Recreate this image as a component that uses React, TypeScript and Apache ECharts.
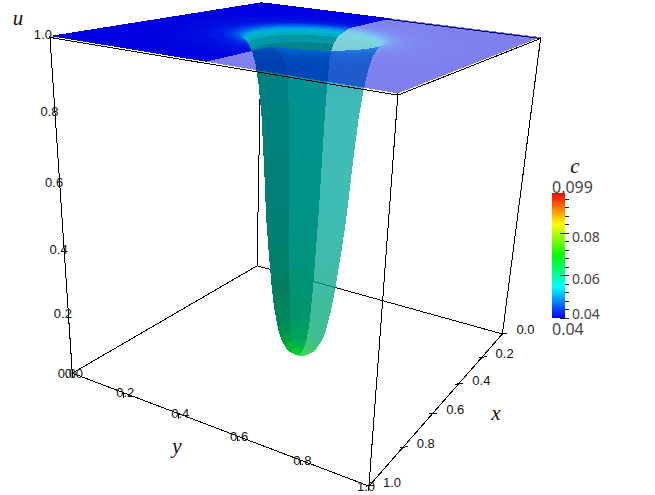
import React, { useEffect, useRef } from "react";
import * as echarts from "echarts";

// ---- radial profile of the well ----
const profileR = [0, 0.03, 0.05, 0.065, 0.075, 0.09, 0.1, 0.11, 0.12, 0.13, 0.14, 0.15, 0.16, 0.17, 0.18, 0.185, 0.19, 0.195, 0.2, 0.205, 0.21, 0.22, 0.23, 0.24, 0.27, 0.3, 0.4, 0.5, 0.75];
const profileU = [-0.004, 0.004, 0.02, 0.05, 0.08, 0.16, 0.24, 0.34, 0.45, 0.62, 0.77, 0.86, 0.92, 0.955, 0.975, 0.983, 0.989, 0.993, 0.996, 0.998, 0.999, 1, 1, 1, 1, 1, 1, 1, 1];
const profileC = [0.0695, 0.067, 0.064, 0.0615, 0.06, 0.0585, 0.058, 0.057, 0.056, 0.0555, 0.055, 0.0545, 0.054, 0.0535, 0.0535, 0.053, 0.052, 0.05, 0.048, 0.0465, 0.0455, 0.0445, 0.0435, 0.043, 0.0415, 0.041, 0.0403, 0.04, 0.04];
const shadeBack = [0.9, 0.8, 0.65, 0.58, 0.55, 0.5, 0.5, 0.5, 0.5, 0.5, 0.5, 0.5, 0.52, 0.58, 0.72, 0.8, 0.86, 0.9, 0.92, 0.92, 0.92, 0.91, 0.9, 0.9, 0.9, 0.88, 0.88, 0.88, 0.88];
const shadeFront = [0.9, 0.82, 0.72, 0.68, 0.66, 0.65, 0.65, 0.65, 0.65, 0.65, 0.65, 0.64, 0.64, 0.66, 0.72, 0.76, 0.82, 0.88, 0.92, 0.92, 0.92, 0.91, 0.9, 0.9, 0.9, 0.88, 0.88, 0.88, 0.88];
const surfaceOpacityFront = 0.5;
// how far (degrees) the two halves' seams turn away from y = 0.5 down the wall
const seamLeft = [6, 6, 6, 6, 6, 6, 6, 6, 6, 6, 6, 6, 6, 5, 3, 2, 1, 0.5, 0, 0, 0, 0, 0, 0, 0, 0, 0, 0, 0];
const seamRight = [11, 11, 11, 11, 11, 11, 11, 11, 11, 11, 11, 11, 11, 9, 6, 4, 2, 1, 0, 0, 0, 0, 0, 0, 0, 0, 0, 0, 0];
const outerFractions = [0.1, 0.2, 0.3, 0.4, 0.5, 0.6, 0.7, 0.8, 0.9, 1];
const halfSteps = 60;
const innerLimit = 0.25;

// ---- colour scale ----
const colorStopValues = [0.04, 0.05475, 0.0695, 0.08425, 0.099];
const colorStopRgb = [[0, 0, 255], [0, 255, 255], [0, 255, 0], [255, 255, 0], [255, 0, 0]];
const colorbarMajor = [0.04, 0.06, 0.08];
const colorbarLabelShift = [-5, 3, 3];
const colorbarMinor = [0.044, 0.048, 0.052, 0.056, 0.064, 0.068, 0.072, 0.076, 0.084, 0.088, 0.092, 0.096];

// ---- axes ----
const ticksU = [0, 0.2, 0.4, 0.6, 0.8, 1];
const ticksXY = [0, 0.2, 0.4, 0.6, 0.8, 1];
const tickText = ["0.0", "0.2", "0.4", "0.6", "0.8", "1.0"];

// camera anchors: cube corner (x, y, u) and where it lies on the page
const cubeCorners = [[0, 0, 0], [1, 0, 0], [0, 1, 0], [1, 1, 0], [0, 0, 1], [1, 0, 1], [0, 1, 1], [1, 1, 1]];
const cornerPixels = [[257, 267], [72, 372], [502, 333], [370, 487], [262, 2], [50, 36], [541, 37], [397, 94]];

function solveCamera(): number[] {
  const rows: number[][] = [];
  const rhs: number[] = [];
  cubeCorners.forEach(([X, Y, Z], k) => {
    const [sx, sy] = cornerPixels[k];
    rows.push([X, Y, Z, 1, 0, 0, 0, 0, -sx * X, -sx * Y, -sx * Z]);
    rhs.push(sx);
    rows.push([0, 0, 0, 0, X, Y, Z, 1, -sy * X, -sy * Y, -sy * Z]);
    rhs.push(sy);
  });
  const n = 11;
  const M: number[][] = [];
  for (let a = 0; a < n; a++) {
    const row = new Array(n + 1).fill(0);
    for (let b = 0; b < n; b++) rows.forEach((r) => (row[b] += r[a] * r[b]));
    rows.forEach((r, k) => (row[n] += r[a] * rhs[k]));
    M.push(row);
  }
  for (let c = 0; c < n; c++) {
    let best = c;
    for (let r = c + 1; r < n; r++) if (Math.abs(M[r][c]) > Math.abs(M[best][c])) best = r;
    [M[c], M[best]] = [M[best], M[c]];
    for (let r = 0; r < n; r++) {
      if (r === c) continue;
      const f = M[r][c] / M[c][c];
      for (let k = c; k <= n; k++) M[r][k] -= f * M[c][k];
    }
  }
  return M.map((row, i) => row[n] / row[i]);
}
const cam = solveCamera();
function project(x: number, y: number, u: number): [number, number] {
  const w = cam[8] * x + cam[9] * y + cam[10] * u + 1;
  return [(cam[0] * x + cam[1] * y + cam[2] * u + cam[3]) / w, (cam[4] * x + cam[5] * y + cam[6] * u + cam[7]) / w];
}

function lookup(table: number[], r: number): number {
  for (let i = 1; i < profileR.length; i++) {
    if (r <= profileR[i]) {
      const t = (r - profileR[i - 1]) / (profileR[i] - profileR[i - 1]);
      return table[i - 1] + t * (table[i] - table[i - 1]);
    }
  }
  return table[table.length - 1];
}
function rainbow(c: number): number[] {
  for (let i = 1; i < colorStopValues.length; i++) {
    if (c <= colorStopValues[i]) {
      const t = Math.max(0, (c - colorStopValues[i - 1]) / (colorStopValues[i] - colorStopValues[i - 1]));
      return colorStopRgb[i].map((v, k) => colorStopRgb[i - 1][k] + t * (v - colorStopRgb[i - 1][k]));
    }
  }
  return colorStopRgb[4];
}

const innerRings = profileR.filter((r) => r < innerLimit).concat([innerLimit]);
const ringCount = innerRings.length + outerFractions.length;
function ringAngle(i: number, j: number, front: boolean): number {
  const base = j < innerRings.length ? innerRings[j] : 1;
  const dL = (lookup(seamLeft, base) * Math.PI) / 180;
  const dR = (lookup(seamRight, base) * Math.PI) / 180;
  const t = i / halfSteps;
  return front ? dL + t * (Math.PI + dR - dL) : Math.PI + dR + t * (Math.PI - dR + dL);
}
function ringRadius(theta: number, j: number): number {
  if (j < innerRings.length) return innerRings[j];
  const rmax = 0.5 / Math.max(Math.abs(Math.cos(theta)), Math.abs(Math.sin(theta)));
  return innerLimit + outerFractions[j - innerRings.length] * (rmax - innerLimit);
}
function meshPoint(i: number, j: number, front: boolean): [number, number] {
  const theta = ringAngle(i, j, front);
  const r = ringRadius(theta, j);
  return project(0.5 + r * Math.cos(theta), 0.5 + r * Math.sin(theta), lookup(profileU, r));
}

const frontCells: number[][] = [];
const backCells: number[][] = [];
for (let j = 0; j < ringCount - 1; j++) for (let i = 0; i < halfSteps; i++) frontCells.push([i, j]);
for (let j = ringCount - 2; j >= 0; j--) for (let i = 0; i < halfSteps; i++) backCells.push([i, j]);

function surfaceSeries(name: string, data: number[][], front: boolean, z: number) {
  return {
    type: "custom", name, data, z, silent: true, clip: false, progressive: 0,
    coordinateSystem: "cartesian2d",
    renderItem: (_: any, api: any) => {
      const i = api.value(0), j = api.value(1);
      const mid = ringAngle(i + 0.5, j, front);
      const r = (ringRadius(mid, j) + ringRadius(mid, j + 1)) / 2;
      const s = lookup(front ? shadeFront : shadeBack, r);
      const a = front ? surfaceOpacityFront : 1;
      const rgb = rainbow(lookup(profileC, r)).map((v) => Math.round(v * s));
      const pts = [meshPoint(i, j, front), meshPoint(i + 1, j, front), meshPoint(i + 1, j + 1, front), meshPoint(i, j + 1, front)].map((p) => api.coord(p));
      return { type: "polygon", shape: { points: pts }, style: { fill: `rgba(${rgb[0]},${rgb[1]},${rgb[2]},${a})` } };
    },
  };
}

const topLevel = 0.996;
const backEdges = [[0, 0, 0, 1, 0, 0], [0, 0, 0, 0, 1, 0], [0, 0, 0, 0, 0, 1], [0, 0, topLevel, 0, 1, topLevel], [0, 0, topLevel, 1, 0, topLevel]];
const frontEdges = [[1, 0, 0, 1, 1, 0], [1, 1, 0, 0, 1, 0], [1, 0, 0, 1, 0, 1], [1, 1, 0, 1, 1, 1], [0, 1, 0, 0, 1, 1], [1, 0, topLevel, 1, 1, topLevel], [1, 1, topLevel, 0, 1, topLevel]];

function edgeSeries(name: string, data: number[][], z: number) {
  return {
    type: "custom", name, data, z, silent: true, clip: false, coordinateSystem: "cartesian2d",
    renderItem: (_: any, api: any) => {
      const a = api.coord(project(api.value(0), api.value(1), api.value(2)));
      const b = api.coord(project(api.value(3), api.value(4), api.value(5)));
      return { type: "line", shape: { x1: a[0], y1: a[1], x2: b[0], y2: b[1] }, style: { stroke: "#000", lineWidth: 1 } };
    },
  };
}

const tickFont = '13px "Liberation Sans"';
const barFont = '"Noto Sans"';
const titleFont = 'italic 21px "Liberation Serif"';
const barLeft = 552, barWidth = 13, barTop = 193, barBottom = 318;
const barY = (c: number) => barBottom - ((c - 0.04) / 0.059) * (barBottom - barTop);

function label(text: string, x: number, y: number, font: string, fill = "#111", align = "center") {
  return { type: "text", x, y, silent: true, z: 50, style: { text, x: 0, y: 0, font, fill, align, verticalAlign: "middle" } };
}
function line(x1: number, y1: number, x2: number, y2: number, stroke = "#000") {
  return { type: "line", silent: true, z: 49, shape: { x1, y1, x2, y2 }, style: { stroke, lineWidth: 1 } };
}

function buildGraphics() {
  const g: any[] = [];
  ticksU.forEach((v, k) => {
    const [px, py] = project(1, 0, v);
    g.push(label(tickText[k], px - (k === 5 ? 7 : 5.5), py + (k === 5 ? -2 : 0), tickFont));
  });
  ticksXY.forEach((v, k) => {
    const [px, py] = project(1, v, 0);
    g.push(label(tickText[k], px + (k === 5 ? -3 : 1.5), py, tickFont));
    g.push(line(px, py, px, py + 5));
    const [qx, qy] = project(v, 1, 0);
    g.push(label(tickText[k], qx + 23, qy - 4, tickFont));
    g.push(line(qx - 3, qy, qx + 5, qy - 1));
  });
  g.push(label("u", 18, 18, titleFont), label("x", 496, 413, titleFont), label("y", 177, 446, titleFont), label("c", 575, 166, titleFont));
  g.push({
    type: "rect", silent: true, z: 48,
    shape: { x: barLeft, y: barTop, width: barWidth, height: barBottom - barTop },
    style: {
      fill: new echarts.graphic.LinearGradient(0, 1, 0, 0, colorStopValues.map((v, k) => ({
        offset: (v - 0.04) / 0.059,
        color: `rgb(${colorStopRgb[k].join(",")})`,
      }))),
    },
  });
  colorbarMajor.forEach((v, k) => {
    g.push(line(560, barY(v), 569, barY(v), "#222"));
    g.push(label(v.toFixed(2), 572, barY(v) + colorbarLabelShift[k], "14px " + barFont, "#444", "left"));
  });
  colorbarMinor.forEach((v) => g.push(line(565, barY(v), 569, barY(v), "#222")));
  g.push(label("0.099", 552, 187, "16px " + barFont, "#444", "left"));
  g.push(label("0.04", 552, 329, "16px " + barFont, "#444", "left"));
  return g;
}

export default function App() {
  const ref = useRef<HTMLDivElement>(null);
  useEffect(() => {
    document.body.style.margin = "0";
    const chart = echarts.init(ref.current!, undefined, { renderer: "svg" });
    chart.setOption({
      animation: false,
      backgroundColor: "#fff",
      grid: { left: 0, right: 0, top: 0, bottom: 0 },
      xAxis: { type: "value", min: 0, max: 655, show: false },
      yAxis: { type: "value", min: 0, max: 495, inverse: true, show: false },
      series: [
        edgeSeries("box back", backEdges, 1),
        surfaceSeries("surface y<0.5", backCells, false, 2),
        surfaceSeries("surface y>0.5", frontCells, true, 3),
        edgeSeries("box front", frontEdges, 4),
      ],
      graphic: { elements: buildGraphics() },
    });
    const svg = ref.current!.querySelector("svg");
    if (svg) (svg as any).style.shapeRendering = "crispEdges";
    return () => chart.dispose();
  }, []);
  return <div ref={ref} style={{ position: "fixed", left: 0, top: 0, width: 655, height: 495 }} />;
}
